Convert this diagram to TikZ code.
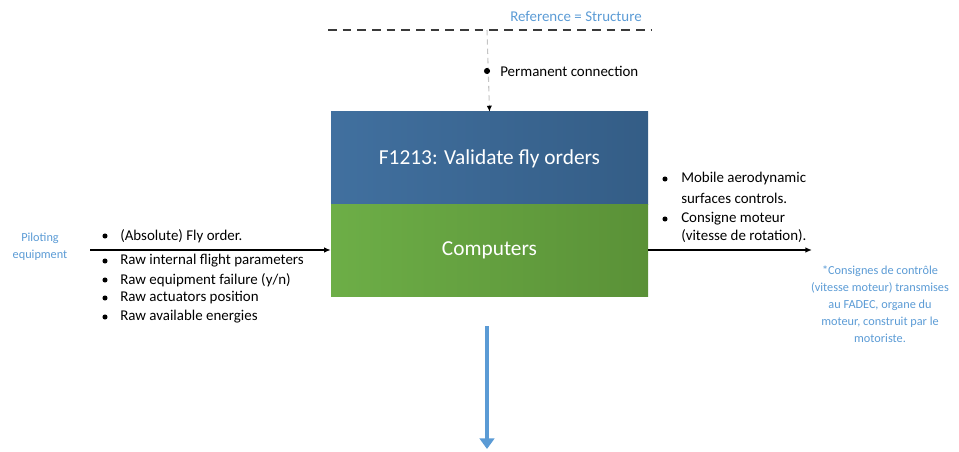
\documentclass[tikz,border=0pt]{standalone}
\usepackage{fontspec}
\setmainfont{Carlito}
\usetikzlibrary{arrows.meta, positioning}
\definecolor{bleufct}{HTML}{41709F}
\definecolor{bleufctd}{HTML}{345D86}
\definecolor{vertres}{HTML}{6DAE47}
\definecolor{vertresd}{HTML}{5A9137}
\definecolor{bleuclair}{HTML}{5B9BD5}
\definecolor{grisligne}{HTML}{C4C4C4}
\definecolor{grisfonce}{HTML}{3A3A3A}

\begin{document}
\begin{tikzpicture}[x=0.75pt, y=-0.75pt,
  txt/.style={font=\fontsize{11.2}{13.4}\selectfont, inner sep=0pt, anchor=west},
  note/.style={text=bleuclair, font=\fontsize{9.2}{12.75}\selectfont, align=center, inner sep=0pt},
  bloc/.style={text=white, font=\fontsize{16}{19}\selectfont, inner sep=0pt,
               minimum width=237.75pt},
  flux/.style={-{Latex[length=5pt, width=4.2pt]}, black, line width=1pt}]

  \useasboundingbox (0,0) rectangle (959,452);

  \def\ymid{250}   % ligne des flux entree / sortie
  \def\xc{487}     % axe vertical de la fonction

  % --- Reference (structure) en haut ---
  \node[note, font=\fontsize{11.2}{13.4}\selectfont] (refstruct) at (576,16) {Reference = Structure};
  \coordinate (refL) at (328,30);
  \coordinate (refR) at (652,30);
  \coordinate (reftop) at (\xc,30);
  \draw[grisfonce, line width=1.4pt, dash pattern=on 6.5pt off 4.5pt] (refL) -- (refR);

  % --- Bloc fonction ---
  \node[bloc, left color=bleufct, right color=bleufctd, minimum height=69.75pt]
    (fct) at (489.5,158.5) {F1213: Validate fly orders};
  \node[bloc, left color=vertres, right color=vertresd, minimum height=68.25pt]
    (comp) at (489.5,250.5) {Computers};

  % connexion permanente
  \draw[grisligne, dash pattern=on 4pt off 3pt, line width=0.8pt,
        -{Latex[length=4.5pt, width=4pt, color=black]}]
    (reftop) -- (fct.north);
  \fill[black] (\xc,71) circle[radius=2.3pt];
  \node[txt] (perm) at (500,71) {Permanent connection};

  % ===================== ENTREES =====================
  \node[note, align=center] (pilot) at (40,247) {Piloting\\equipment};
  \coordinate (inL) at (90,\ymid);
  \draw[flux] (inL) -- (comp.west |- inL);

  \fill[black] (105,236) circle[radius=1.9pt];
  \node[txt] (flyorder) at (120,236) {(Absolute) Fly order.};
  \foreach \y/\nom/\lbl in {261/intpar/{Raw internal flight parameters},
                           280/eqfail/{Raw equipment failure (y/n)},
                           298/actpos/{Raw actuators position},
                           317/energ/{Raw available energies}} {
     \fill[black] (105,\y) circle[radius=1.9pt];
     \node[txt] (\nom) at (120,\y) {\lbl};
  }

  % ===================== SORTIES =====================
  \coordinate (outR) at (812,\ymid);
  \draw[flux] (comp.east |- outR) -- (outR);

  \fill[black] (665,179) circle[radius=1.9pt];
  \node[txt] (mobile1) at (681,179) {Mobile aerodynamic};
  \node[txt] (mobile2) at (681,198) {surfaces controls.};
  \fill[black] (665,219) circle[radius=1.9pt];
  \node[txt] (consigne1) at (681,219) {Consigne moteur};
  \node[txt] (consigne2) at (681,236) {(vitesse de rotation).};

  \node[note] (fadec) at (880,304)
    {*Consignes de contrôle\\(vitesse moteur) transmises\\au FADEC, organe du\\moteur, construit par le\\motoriste.};

  % --- Fleche vers le bas ---
  \coordinate (dnA) at (\xc,326);
  \coordinate (dnB) at (\xc,449);
  \draw[bleuclair, line width=3pt, -{Triangle[length=8pt, width=11pt]}] (dnA) -- (dnB);

\end{tikzpicture}
\end{document}
